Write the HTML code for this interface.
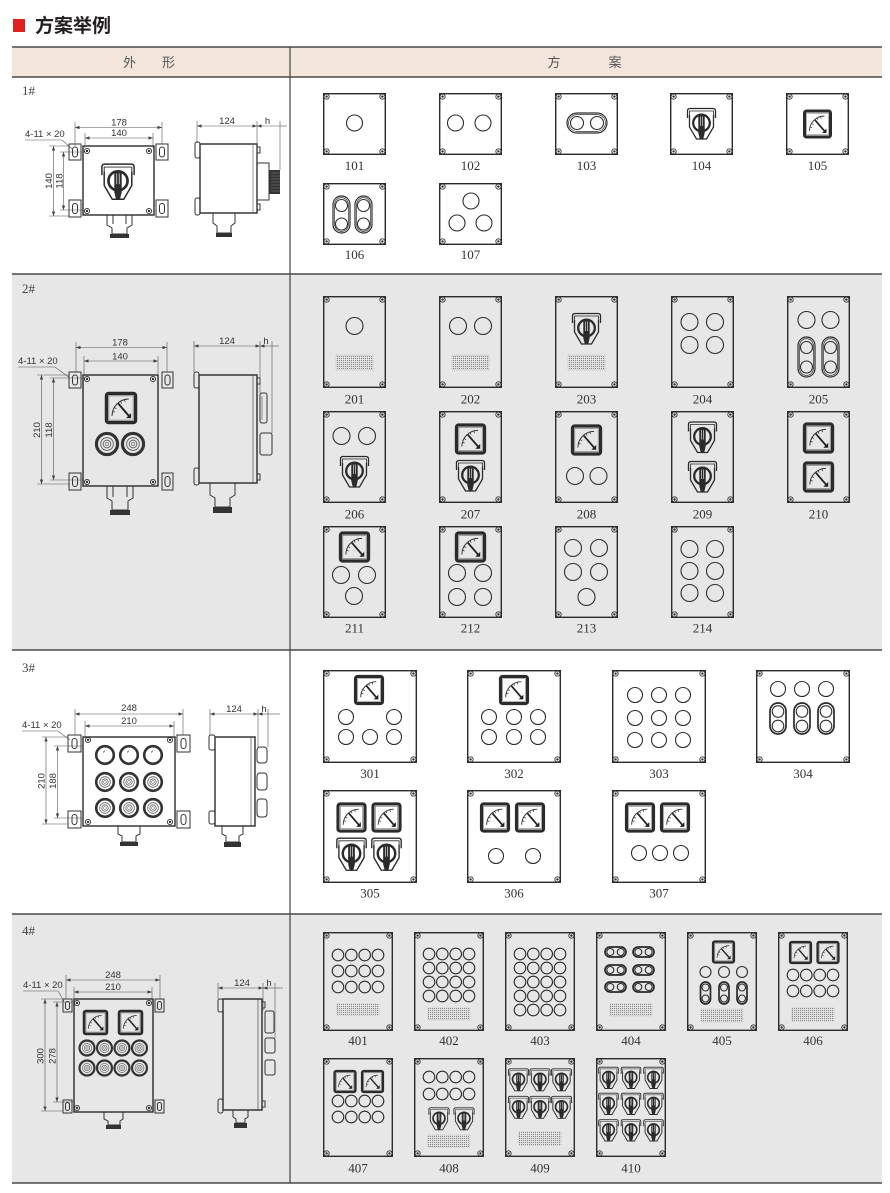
<!DOCTYPE html>
<html><head><meta charset="utf-8"><style>
html,body{margin:0;padding:0;background:#fff}
svg{display:block}
.o{fill:none;stroke:#2e2e2e;stroke-width:1.1}
.b{fill:none;stroke:#2a2a2a;stroke-width:1.4}
.k{fill:none;stroke:#333;stroke-width:1}
.d{fill:none;stroke:#555;stroke-width:0.6}
.t{font-family:"Liberation Serif",serif;font-size:13px;fill:#333;text-anchor:middle}
.n{font-family:"Liberation Sans",sans-serif;font-size:9.5px;fill:#333}
.m{text-anchor:middle}
.s{font-family:"Liberation Serif",serif;font-size:13px;fill:#444}
.h{font-family:"Liberation Sans","Noto Sans CJK SC",sans-serif;font-size:13px;fill:#555;text-anchor:middle}
.g{fill:url(#dt);stroke:#999;stroke-width:0.5;stroke-dasharray:1 1}
.pl{fill:none;stroke:#2e2e2e;stroke-width:1.2}
.pi{fill:none;stroke:#2e2e2e;stroke-width:0.7}
.pd{fill:none;stroke:#2a2a2a;stroke-width:1.7}
</style></head><body>
<svg width="890" height="1193" viewBox="0 0 890 1193" xmlns="http://www.w3.org/2000/svg">
<defs>
<marker id="ar" viewBox="0 0 8 6" refX="8" refY="3" markerWidth="5" markerHeight="3.4" markerUnits="userSpaceOnUse" orient="auto-start-reverse"><path d="M0,0L8,3L0,6z" fill="#444"/></marker>
<pattern id="dt" width="2" height="2" patternUnits="userSpaceOnUse"><rect width="1.1" height="1.1" fill="#888"/></pattern>
<g id="sc"><circle r="2.6" fill="none" stroke="#333" stroke-width="0.9"/><circle r="1.2" fill="#333"/></g>
<g id="sw" fill="none" stroke="#2b2b2b">
<path d="M-14,-6V-13Q-14,-15.5 -11.5,-15.5H11.5Q14,-15.5 14,-13V-6" stroke-width="1.3"/>
<path d="M-12,-7V-13H12V-7" stroke-width="0.8"/>
<path d="M-12,-9V3L-5,15H5L12,3V-9" stroke-width="1.3"/>
<circle cy="-1" r="8.3" stroke-width="2.3"/>
<path d="M-3.2,-9.5H3.2V9L1.6,15.5H-1.6L-3.2,9Z" fill="#2b2b2b" stroke="none"/>
<path d="M-1.1,-7.5V2M1.1,-7.5V2" stroke="#ddd" stroke-width="0.7"/>
</g>
<g id="mt">
<rect x="-13" y="-13" width="26" height="26" rx="2" fill="none" stroke="#2b2b2b" stroke-width="3"/>
<rect x="-10.8" y="-10.8" width="21.6" height="21.6" fill="none" stroke="#666" stroke-width="0.5"/>
<path d="M-8,7A15,15 0 0 1 7,-8" fill="none" stroke="#333" stroke-width="0.9"/>
<path d="M-7.5,3.1L-5.4,3.7M-6,-0.5L-4.1,0.6M-0.5,-6L0.6,-4.1M3.1,-7.5L3.7,-5.4" stroke="#333" stroke-width="0.7"/>
<path d="M-2.5,-4L7,7" stroke="#222" stroke-width="1.7"/>
<path d="M4.5,9L9,9L9,4.5Z" fill="#222"/>
</g>
<g id="bt"><circle r="8.8" fill="none" stroke="#333" stroke-width="2.6"/><circle r="5.3" fill="none" stroke="#666" stroke-width="0.8"/><circle r="3.2" fill="none" stroke="#666" stroke-width="0.8"/><circle r="1.4" fill="none" stroke="#666" stroke-width="0.6"/></g>
<g id="lp"><circle r="8.8" fill="none" stroke="#333" stroke-width="2.6"/><path d="M-1.5,-2.5l1,-1.8" stroke="#333" stroke-width="0.8"/></g>
<g id="p1"><rect class="b" x="0.7" y="0.7" width="61.6" height="60.6"/><use href="#sc" x="3.6" y="3.6"/><use href="#sc" x="59.4" y="3.6"/><use href="#sc" x="3.6" y="58.4"/><use href="#sc" x="59.4" y="58.4"/></g>
<g id="p2"><rect class="b" x="0.7" y="0.7" width="61.6" height="90.6"/><use href="#sc" x="3.6" y="3.6"/><use href="#sc" x="59.4" y="3.6"/><use href="#sc" x="3.6" y="88.4"/><use href="#sc" x="59.4" y="88.4"/></g>
<g id="p3"><rect class="b" x="0.7" y="0.7" width="92.6" height="91.6"/><use href="#sc" x="3.6" y="3.6"/><use href="#sc" x="90.4" y="3.6"/><use href="#sc" x="3.6" y="89.4"/><use href="#sc" x="90.4" y="89.4"/></g>
<g id="p4"><rect class="b" x="0.7" y="0.7" width="68.6" height="97.6"/><use href="#sc" x="3.6" y="3.6"/><use href="#sc" x="66.4" y="3.6"/><use href="#sc" x="3.6" y="95.4"/><use href="#sc" x="66.4" y="95.4"/></g>
</defs>

<!-- title -->
<rect x="13" y="19" width="12" height="13" fill="#e0201e"/>
<text x="35" y="32" font-family="'Liberation Sans','Noto Sans CJK SC',sans-serif" font-size="19" font-weight="bold" fill="#231f20">方案举例</text>

<!-- backgrounds -->
<rect x="12" y="47" width="870" height="30" fill="#f4e5dc"/>
<rect x="12" y="274" width="870" height="376" fill="#e7e7e7"/>
<rect x="12" y="914" width="870" height="269" fill="#e7e7e7"/>
<path d="M12,47H882M12,77H882M12,274H882M12,650H882M12,914H882M12,1183H882" stroke="#4a4a4a" stroke-width="1.5" fill="none"/>
<path d="M290,47V1183" stroke="#444" stroke-width="1.2"/>
<text class="h" x="129.5" y="67">外</text><text class="h" x="168.5" y="67">形</text>
<text class="h" x="554" y="67">方</text><text class="h" x="615" y="67">案</text>

<text class="s" x="22" y="95">1#</text>
<text class="s" x="22" y="293">2#</text>
<text class="s" x="22" y="672">3#</text>
<text class="s" x="22" y="935">4#</text>

<!-- ===== Section 1 left drawing ===== -->
<g>
<rect class="b" x="83" y="146" width="71" height="69" stroke-width="1.2"/>
<rect class="k" x="69" y="144" width="12" height="16"/><rect class="k" x="72.5" y="147" width="5" height="10" rx="2.5"/>
<rect class="k" x="69" y="200" width="12" height="17"/><rect class="k" x="72.5" y="203.5" width="5" height="10" rx="2.5"/>
<rect class="k" x="156" y="144" width="12" height="16"/><rect class="k" x="159.5" y="147" width="5" height="10" rx="2.5"/>
<rect class="k" x="156" y="200" width="12" height="17"/><rect class="k" x="159.5" y="203.5" width="5" height="10" rx="2.5"/>
<use href="#sc" x="87" y="151"/><use href="#sc" x="149" y="151"/><use href="#sc" x="87" y="211"/><use href="#sc" x="149" y="211"/>
<use href="#sw" transform="translate(118,182) scale(1.15)"/>
<path class="k" d="M107,215V225L112,228V234H127V228L132,225V215M113,215V224M126,215V224"/>
<rect x="110" y="234" width="19" height="4" fill="#333"/>
<path class="d" d="M75,127.5H162" marker-start="url(#ar)" marker-end="url(#ar)"/>
<path class="d" d="M75,122V146M162,122V144M85,133V148M153,133V148"/>
<path class="d" d="M85,138H153" marker-start="url(#ar)" marker-end="url(#ar)"/>
<text class="n m" x="119" y="125.5">178</text>
<text class="n m" x="119" y="136">140</text>
<text class="n" x="25" y="137">4-11 × 20</text>
<path class="d" d="M25,140H62L72,149"/>
<path class="d" d="M53.5,146V216" marker-start="url(#ar)" marker-end="url(#ar)"/>
<path class="d" d="M63.5,152V210" marker-start="url(#ar)" marker-end="url(#ar)"/>
<path class="d" d="M49,146H70M49,216H70M60,152H84M60,210H84"/>
<text class="n m" transform="translate(52,181) rotate(-90)">140</text>
<text class="n m" transform="translate(62.5,181) rotate(-90)">118</text>
<!-- side -->
<rect class="b" x="200" y="144" width="57" height="69" stroke-width="1.2"/>
<path class="d" d="M253,144V213" stroke="#333"/>
<rect class="k" x="195" y="142" width="5" height="16" rx="2"/><rect class="k" x="195" y="198" width="5" height="17" rx="2"/>
<rect class="k" x="257" y="147" width="3" height="6"/><rect class="k" x="257" y="204" width="3" height="6"/>
<rect class="k" x="257" y="163" width="12" height="37"/>
<rect x="269" y="170" width="11" height="24" fill="#333"/>
<path d="M271,173H280M271,176H280M271,179H280M271,182H280M271,185H280M271,188H280M271,191H280" stroke="#888" stroke-width="0.6"/>
<path class="k" d="M213,213V223L217,226V233H231V226L235,223V213"/>
<rect x="216" y="233" width="16" height="4" fill="#333"/>
<path class="d" d="M197,126H257" marker-start="url(#ar)" marker-end="url(#ar)"/>
<path class="d" d="M280,126H257" marker-end="url(#ar)"/><path class="d" d="M280,126H287"/>
<path class="d" d="M197,121V143M257,121V163M280,121V170"/>
<text class="n m" x="227" y="124">124</text>
<text class="n m" x="267.5" y="124">h</text>
</g>

<!-- ===== Section 1 panels ===== -->
<g transform="translate(323,93)"><use href="#p1"/><circle class="o" cx="31.5" cy="30" r="8"/></g>
<g transform="translate(439,93)"><use href="#p1"/><circle class="o" cx="16.5" cy="30" r="8"/><circle class="o" cx="44" cy="30" r="8"/></g>
<g transform="translate(555,93)"><use href="#p1"/><rect class="pl" x="12" y="20" width="40" height="20" rx="10"/><rect class="pi" x="13.6" y="21.6" width="36.8" height="16.8" rx="8.4"/><circle class="o" cx="22" cy="30" r="6.5"/><circle class="o" cx="42" cy="30" r="6.5"/></g>
<g transform="translate(670,93)"><use href="#p1"/><use href="#sw" transform="translate(31.5,31)"/></g>
<g transform="translate(786,93)"><use href="#p1"/><use href="#mt" transform="translate(31.5,31)"/></g>
<g transform="translate(323,183)"><use href="#p1"/><rect class="pl" x="10" y="13" width="17" height="37" rx="8.5"/><rect class="pi" x="11.6" y="14.6" width="13.8" height="33.8" rx="6.9"/><rect class="pl" x="32" y="13" width="17" height="37" rx="8.5"/><rect class="pi" x="33.6" y="14.6" width="13.8" height="33.8" rx="6.9"/><circle class="o" cx="18.5" cy="22.5" r="6"/><circle class="o" cx="18.5" cy="41" r="6"/><circle class="o" cx="40.5" cy="22.5" r="6"/><circle class="o" cx="40.5" cy="41" r="6"/></g>
<g transform="translate(439,183)"><use href="#p1"/><circle class="o" cx="32" cy="18" r="8"/><circle class="o" cx="18" cy="40" r="8"/><circle class="o" cx="45" cy="40" r="8"/></g>
<text class="t" x="354.5" y="170">101</text><text class="t" x="470.5" y="170">102</text><text class="t" x="586.5" y="170">103</text><text class="t" x="701.5" y="170">104</text><text class="t" x="817.5" y="170">105</text>
<text class="t" x="354.5" y="259">106</text><text class="t" x="470.5" y="259">107</text>

<!-- ===== Section 2 left drawing ===== -->
<g>
<rect class="b" x="83" y="375" width="75" height="111" stroke-width="1.2"/>
<rect class="k" x="69" y="372" width="12" height="16"/><rect class="k" x="72.5" y="375" width="5" height="10" rx="2.5"/>
<rect class="k" x="69" y="473" width="12" height="17"/><rect class="k" x="72.5" y="476.5" width="5" height="10" rx="2.5"/>
<rect class="k" x="162" y="372" width="11" height="16"/><rect class="k" x="165" y="375" width="5" height="10" rx="2.5"/>
<rect class="k" x="162" y="473" width="11" height="17"/><rect class="k" x="165" y="476.5" width="5" height="10" rx="2.5"/>
<use href="#sc" x="87" y="379"/><use href="#sc" x="153" y="379"/><use href="#sc" x="87" y="482"/><use href="#sc" x="153" y="482"/>
<use href="#mt" transform="translate(121,408) scale(1.12)"/>
<use href="#bt" transform="translate(107,444) scale(1.2)"/><use href="#bt" transform="translate(133,444) scale(1.2)"/>
<path class="k" d="M107,486V498L112,501V510H128V501L133,498V486M113,486V497M127,486V497"/>
<rect x="110" y="510" width="20" height="5" fill="#333"/>
<path class="d" d="M76,347.5H167" marker-start="url(#ar)" marker-end="url(#ar)"/>
<path class="d" d="M84,361H158" marker-start="url(#ar)" marker-end="url(#ar)"/>
<path class="d" d="M76,342V372M167,342V372M84,356V375M158,356V375"/>
<text class="n m" x="120" y="345.5">178</text>
<text class="n m" x="120" y="359.5">140</text>
<text class="n" x="18" y="364">4-11 × 20</text>
<path class="d" d="M18,367H55L70,378"/>
<path class="d" d="M41.5,375V484" marker-start="url(#ar)" marker-end="url(#ar)"/>
<path class="d" d="M53.5,378V480" marker-start="url(#ar)" marker-end="url(#ar)"/>
<path class="d" d="M37,375H70M37,484H70M50,378H84M50,480H84"/>
<text class="n m" transform="translate(40,430) rotate(-90)">210</text>
<text class="n m" transform="translate(52,430) rotate(-90)">118</text>
<!-- side -->
<rect class="b" x="199" y="375" width="58" height="108" stroke-width="1.2"/>
<path d="M253,375V483" stroke="#333" stroke-width="0.6"/>
<rect class="k" x="194" y="372" width="5" height="16" rx="2"/><rect class="k" x="194" y="468" width="5" height="17" rx="2"/>
<rect class="k" x="257" y="378" width="3" height="6"/><rect class="k" x="257" y="474" width="3" height="6"/>
<rect class="k" x="260" y="393" width="7" height="30" rx="2"/><path d="M262,396V420" stroke="#555" stroke-width="0.6"/>
<rect class="k" x="260" y="433" width="12" height="22" rx="2"/>
<path class="k" d="M210,483V495L215,498V507H230V498L235,495V483"/>
<rect x="213" y="507" width="19" height="6" fill="#333"/>
<path class="d" d="M194,346H260" marker-start="url(#ar)" marker-end="url(#ar)"/>
<path class="d" d="M272,346H260" marker-end="url(#ar)"/><path class="d" d="M272,346H279"/>
<path class="d" d="M194,341V372M260,341V393M272,341V433"/>
<text class="n m" x="227" y="344">124</text>
<text class="n m" x="266" y="344">h</text>
</g>

<!-- ===== Section 2 panels ===== -->
<g transform="translate(323,296)"><use href="#p2"/><circle class="o" cx="31.5" cy="30" r="8.5"/><rect class="g" x="13" y="59" width="37" height="15"/></g>
<g transform="translate(439,296)"><use href="#p2"/><circle class="o" cx="19" cy="30" r="8.5"/><circle class="o" cx="44" cy="30" r="8.5"/><rect class="g" x="13" y="59" width="37" height="15"/></g>
<g transform="translate(555,296)"><use href="#p2"/><use href="#sw" transform="translate(31.5,33)"/><rect class="g" x="13" y="59" width="37" height="15"/></g>
<g transform="translate(671,296)"><use href="#p2"/><circle class="o" cx="18.5" cy="26" r="8.5"/><circle class="o" cx="44" cy="26" r="8.5"/><circle class="o" cx="18.5" cy="49" r="8.5"/><circle class="o" cx="44" cy="49" r="8.5"/></g>
<g transform="translate(787,296)"><use href="#p2"/><circle class="o" cx="19.5" cy="24" r="8.5"/><circle class="o" cx="43.5" cy="24" r="8.5"/><rect class="pl" x="11" y="41" width="17" height="40" rx="8.5"/><rect class="pi" x="12.6" y="42.6" width="13.8" height="36.8" rx="6.9"/><rect class="pl" x="35" y="41" width="17" height="40" rx="8.5"/><rect class="pi" x="36.6" y="42.6" width="13.8" height="36.8" rx="6.9"/><circle class="o" cx="19.5" cy="51.5" r="6"/><circle class="o" cx="19.5" cy="71" r="6"/><circle class="o" cx="43.5" cy="51.5" r="6"/><circle class="o" cx="43.5" cy="71" r="6"/></g>
<g transform="translate(323,411)"><use href="#p2"/><circle class="o" cx="18.5" cy="25" r="8.5"/><circle class="o" cx="44" cy="25" r="8.5"/><use href="#sw" transform="translate(31.5,61)"/></g>
<g transform="translate(439,411)"><use href="#p2"/><use href="#mt" transform="translate(31.5,28) scale(1.08)"/><use href="#sw" transform="translate(31.5,65)"/></g>
<g transform="translate(555,411)"><use href="#p2"/><use href="#mt" transform="translate(31.5,29) scale(1.08)"/><circle class="o" cx="20" cy="65" r="8.5"/><circle class="o" cx="43.5" cy="65" r="8.5"/></g>
<g transform="translate(671,411)"><use href="#p2"/><use href="#sw" transform="translate(31.5,26.5)"/><use href="#sw" transform="translate(31.5,66)"/></g>
<g transform="translate(787,411)"><use href="#p2"/><use href="#mt" transform="translate(31.5,27) scale(1.08)"/><use href="#mt" transform="translate(31.5,66) scale(1.08)"/></g>
<g transform="translate(323,526)"><use href="#p2"/><use href="#mt" transform="translate(31.5,21) scale(1.08)"/><circle class="o" cx="18" cy="49" r="8.5"/><circle class="o" cx="44" cy="49" r="8.5"/><circle class="o" cx="31" cy="70" r="8.5"/></g>
<g transform="translate(439,526)"><use href="#p2"/><use href="#mt" transform="translate(31.5,21) scale(1.08)"/><circle class="o" cx="18" cy="47" r="8.5"/><circle class="o" cx="44" cy="47" r="8.5"/><circle class="o" cx="18" cy="71" r="8.5"/><circle class="o" cx="44" cy="71" r="8.5"/></g>
<g transform="translate(555,526)"><use href="#p2"/><circle class="o" cx="18" cy="22" r="8.5"/><circle class="o" cx="44" cy="22" r="8.5"/><circle class="o" cx="18" cy="46" r="8.5"/><circle class="o" cx="44" cy="46" r="8.5"/><circle class="o" cx="31.5" cy="71" r="8.5"/></g>
<g transform="translate(671,526)"><use href="#p2"/><circle class="o" cx="18.5" cy="23" r="8.5"/><circle class="o" cx="44" cy="23" r="8.5"/><circle class="o" cx="18.5" cy="45" r="8.5"/><circle class="o" cx="44" cy="45" r="8.5"/><circle class="o" cx="18.5" cy="67" r="8.5"/><circle class="o" cx="44" cy="67" r="8.5"/></g>
<text class="t" x="354.5" y="403.5">201</text><text class="t" x="470.5" y="403.5">202</text><text class="t" x="586.5" y="403.5">203</text><text class="t" x="702.5" y="403.5">204</text><text class="t" x="818.5" y="403.5">205</text>
<text class="t" x="354.5" y="518.5">206</text><text class="t" x="470.5" y="518.5">207</text><text class="t" x="586.5" y="518.5">208</text><text class="t" x="702.5" y="518.5">209</text><text class="t" x="818.5" y="518.5">210</text>
<text class="t" x="354.5" y="632.5">211</text><text class="t" x="470.5" y="632.5">212</text><text class="t" x="586.5" y="632.5">213</text><text class="t" x="702.5" y="632.5">214</text>

<!-- ===== Section 3 left drawing ===== -->
<g>
<rect class="b" x="83" y="737" width="92" height="89" stroke-width="1.2"/>
<rect class="k" x="68" y="735" width="13" height="17"/><rect class="k" x="72" y="738.5" width="5" height="10" rx="2.5"/>
<rect class="k" x="68" y="811" width="13" height="17"/><rect class="k" x="72" y="814.5" width="5" height="10" rx="2.5"/>
<rect class="k" x="177" y="735" width="13" height="17"/><rect class="k" x="181" y="738.5" width="5" height="10" rx="2.5"/>
<rect class="k" x="177" y="811" width="13" height="17"/><rect class="k" x="181" y="814.5" width="5" height="10" rx="2.5"/>
<use href="#sc" x="88" y="740"/><use href="#sc" x="170" y="740"/><use href="#sc" x="88" y="822"/><use href="#sc" x="170" y="822"/>
<use href="#lp" x="105" y="755"/><use href="#lp" x="129" y="755"/><use href="#lp" x="153" y="755"/>
<use href="#bt" x="105" y="782"/><use href="#bt" x="129" y="782"/><use href="#bt" x="153" y="782"/>
<use href="#bt" x="105" y="808"/><use href="#bt" x="129" y="808"/><use href="#bt" x="153" y="808"/>
<path class="k" d="M118,826V834L122,836V842H136V836L140,834V826"/>
<rect x="120" y="842" width="18" height="4" fill="#333"/>
<path class="d" d="M75,714H183" marker-start="url(#ar)" marker-end="url(#ar)"/>
<path class="d" d="M85,726H174" marker-start="url(#ar)" marker-end="url(#ar)"/>
<path class="d" d="M75,709V735M183,709V735M85,721V737M174,721V737"/>
<text class="n m" x="129" y="711">248</text>
<text class="n m" x="129" y="724">210</text>
<text class="n" x="22" y="728">4-11 × 20</text>
<path class="d" d="M22,731H58L70,740"/>
<path class="d" d="M46,737V824" marker-start="url(#ar)" marker-end="url(#ar)"/>
<path class="d" d="M57.5,746V818" marker-start="url(#ar)" marker-end="url(#ar)"/>
<path class="d" d="M42,737H68M42,824H68M54,746H83M54,818H83"/>
<text class="n m" transform="translate(44.5,781) rotate(-90)">210</text>
<text class="n m" transform="translate(56,781) rotate(-90)">188</text>
<!-- side -->
<rect class="b" x="215" y="737" width="40" height="89" stroke-width="1.2"/>
<path d="M251,737V826" stroke="#333" stroke-width="0.6"/>
<rect class="k" x="209" y="735" width="6" height="15" rx="2"/><rect class="k" x="209" y="811" width="6" height="13" rx="2"/>
<rect class="k" x="257" y="747" width="10" height="16" rx="3"/><rect class="k" x="257" y="773" width="10" height="17" rx="3"/><rect class="k" x="257" y="799" width="10" height="18" rx="3"/>
<path class="k" d="M222,826V834L226,836V842H239V836L243,834V826"/>
<rect x="224" y="842" width="17" height="5" fill="#333"/>
<path class="d" d="M210,714H258" marker-start="url(#ar)" marker-end="url(#ar)"/>
<path class="d" d="M268,714H258" marker-end="url(#ar)"/><path class="d" d="M268,714H280"/>
<path class="d" d="M210,709V735M258,709V747M268,709V747"/>
<text class="n m" x="234" y="712">124</text>
<text class="n m" x="264" y="712">h</text>
</g>

<!-- ===== Section 3 panels ===== -->
<g transform="translate(323,670)"><use href="#p3"/><use href="#mt" transform="translate(46,20) scale(1.04)"/><circle class="o" cx="23" cy="47" r="7.5"/><circle class="o" cx="71" cy="47" r="7.5"/><circle class="o" cx="23" cy="67" r="7.5"/><circle class="o" cx="47" cy="67" r="7.5"/><circle class="o" cx="71" cy="67" r="7.5"/></g>
<g transform="translate(467,670)"><use href="#p3"/><use href="#mt" transform="translate(47,20) scale(1.04)"/><circle class="o" cx="22" cy="47" r="7.5"/><circle class="o" cx="47" cy="47" r="7.5"/><circle class="o" cx="71" cy="47" r="7.5"/><circle class="o" cx="22" cy="67" r="7.5"/><circle class="o" cx="47" cy="67" r="7.5"/><circle class="o" cx="71" cy="67" r="7.5"/></g>
<g transform="translate(612,670)"><use href="#p3"/><circle class="o" cx="23" cy="25" r="7.5"/><circle class="o" cx="47" cy="25" r="7.5"/><circle class="o" cx="71" cy="25" r="7.5"/><circle class="o" cx="23" cy="48" r="7.5"/><circle class="o" cx="47" cy="48" r="7.5"/><circle class="o" cx="71" cy="48" r="7.5"/><circle class="o" cx="23" cy="70" r="7.5"/><circle class="o" cx="47" cy="70" r="7.5"/><circle class="o" cx="71" cy="70" r="7.5"/></g>
<g transform="translate(756,670)"><use href="#p3"/><circle class="o" cx="22" cy="19" r="7.5"/><circle class="o" cx="46" cy="19" r="7.5"/><circle class="o" cx="70" cy="19" r="7.5"/>
<rect class="pd" x="14" y="33" width="16" height="31" rx="8"/><rect class="pd" x="38" y="33" width="16" height="31" rx="8"/><rect class="pd" x="62" y="33" width="16" height="31" rx="8"/>
<circle class="o" cx="22" cy="41.5" r="5.8"/><circle class="o" cx="22" cy="56" r="5.8"/><circle class="o" cx="46" cy="41.5" r="5.8"/><circle class="o" cx="46" cy="56" r="5.8"/><circle class="o" cx="70" cy="41.5" r="5.8"/><circle class="o" cx="70" cy="56" r="5.8"/></g>
<g transform="translate(323,790)"><use href="#p3"/><use href="#mt" transform="translate(28.5,27.5) scale(1.04)"/><use href="#mt" transform="translate(63.5,27.5) scale(1.04)"/><use href="#sw" transform="translate(28.5,64.5) scale(1.05)"/><use href="#sw" transform="translate(63.5,64.5) scale(1.05)"/></g>
<g transform="translate(467,790)"><use href="#p3"/><use href="#mt" transform="translate(28,27.5) scale(1.04)"/><use href="#mt" transform="translate(63,27.5) scale(1.04)"/><circle class="o" cx="29" cy="66" r="7.5"/><circle class="o" cx="66" cy="66" r="7.5"/></g>
<g transform="translate(612,790)"><use href="#p3"/><use href="#mt" transform="translate(28,27.5) scale(1.04)"/><use href="#mt" transform="translate(63,27.5) scale(1.04)"/><circle class="o" cx="27" cy="63" r="7.5"/><circle class="o" cx="48" cy="63" r="7.5"/><circle class="o" cx="69" cy="63" r="7.5"/></g>
<text class="t" x="370" y="778">301</text><text class="t" x="514" y="778">302</text><text class="t" x="659" y="778">303</text><text class="t" x="803" y="778">304</text>
<text class="t" x="370" y="897.5">305</text><text class="t" x="514" y="897.5">306</text><text class="t" x="659" y="897.5">307</text>

<!-- ===== Section 4 left drawing ===== -->
<g>
<rect class="b" x="74" y="999" width="79" height="113" stroke-width="1.2"/>
<rect class="k" x="63" y="999" width="9" height="13"/><rect class="k" x="65.5" y="1001.5" width="4" height="8" rx="2"/>
<rect class="k" x="63" y="1100" width="9" height="13"/><rect class="k" x="65.5" y="1102.5" width="4" height="8" rx="2"/>
<rect class="k" x="155" y="999" width="9" height="13"/><rect class="k" x="157.5" y="1001.5" width="4" height="8" rx="2"/>
<rect class="k" x="155" y="1100" width="9" height="13"/><rect class="k" x="157.5" y="1102.5" width="4" height="8" rx="2"/>
<use href="#sc" x="77" y="1003"/><use href="#sc" x="149" y="1003"/><use href="#sc" x="77" y="1108"/><use href="#sc" x="149" y="1108"/>
<use href="#mt" transform="translate(95.5,1022.5) scale(0.88)"/><use href="#mt" transform="translate(130.5,1022.5) scale(0.88)"/>
<use href="#bt" transform="translate(87,1048) scale(0.85)"/><use href="#bt" transform="translate(104.5,1048) scale(0.85)"/><use href="#bt" transform="translate(122,1048) scale(0.85)"/><use href="#bt" transform="translate(139.5,1048) scale(0.85)"/>
<use href="#bt" transform="translate(87,1068) scale(0.85)"/><use href="#bt" transform="translate(104.5,1068) scale(0.85)"/><use href="#bt" transform="translate(122,1068) scale(0.85)"/><use href="#bt" transform="translate(139.5,1068) scale(0.85)"/>
<path class="k" d="M104,1112V1119L108,1121V1125H120V1121L123,1119V1112"/>
<rect x="106" y="1125" width="15" height="4" fill="#333"/>
<path class="d" d="M66,980H160" marker-start="url(#ar)" marker-end="url(#ar)"/>
<path class="d" d="M74,992H152" marker-start="url(#ar)" marker-end="url(#ar)"/>
<path class="d" d="M66,975V999M160,975V999M74,987V999M152,987V999"/>
<text class="n m" x="113" y="978">248</text>
<text class="n m" x="113" y="990">210</text>
<text class="n" x="23" y="988">4-11 × 20</text>
<path class="d" d="M23,991H58L64,1001"/>
<path class="d" d="M45,999V1111" marker-start="url(#ar)" marker-end="url(#ar)"/>
<path class="d" d="M57,1002V1102" marker-start="url(#ar)" marker-end="url(#ar)"/>
<path class="d" d="M41,999H63M41,1111H63M53,1002H74M53,1102H74"/>
<text class="n m" transform="translate(43.5,1056) rotate(-90)">300</text>
<text class="n m" transform="translate(55.5,1056) rotate(-90)">278</text>
<!-- side -->
<rect class="b" x="223" y="999" width="39" height="111" stroke-width="1.2"/>
<path d="M258,999V1110" stroke="#333" stroke-width="0.6"/>
<rect class="k" x="218" y="999" width="5" height="13" rx="2"/><rect class="k" x="218" y="1099" width="5" height="14" rx="2"/>
<rect class="k" x="262" y="1002" width="3" height="6"/><rect class="k" x="262" y="1101" width="3" height="6"/>
<rect class="k" x="265" y="1011" width="9" height="22" rx="2"/><rect class="k" x="265" y="1038" width="10" height="15" rx="2"/><rect class="k" x="265" y="1060" width="10" height="15" rx="2"/>
<path class="k" d="M233,1110V1117L236,1119V1123H245V1119L248,1117V1110"/>
<rect x="234" y="1123" width="13" height="5" fill="#333"/>
<path class="d" d="M218,988H263" marker-start="url(#ar)" marker-end="url(#ar)"/>
<path class="d" d="M275,988H263" marker-end="url(#ar)"/><path class="d" d="M275,988H283"/>
<path class="d" d="M218,983V999M263,983V1011M275,983V1038"/>
<text class="n m" x="242" y="986">124</text>
<text class="n m" x="269" y="986">h</text>
</g>

<!-- ===== Section 4 panels ===== -->
<g transform="translate(323,932)"><use href="#p4"/>
<g class="o"><circle cx="15" cy="23" r="5.8"/><circle cx="28.3" cy="23" r="5.8"/><circle cx="41.7" cy="23" r="5.8"/><circle cx="55" cy="23" r="5.8"/><circle cx="15" cy="39" r="5.8"/><circle cx="28.3" cy="39" r="5.8"/><circle cx="41.7" cy="39" r="5.8"/><circle cx="55" cy="39" r="5.8"/><circle cx="15" cy="55" r="5.8"/><circle cx="28.3" cy="55" r="5.8"/><circle cx="41.7" cy="55" r="5.8"/><circle cx="55" cy="55" r="5.8"/></g>
<rect class="g" x="14" y="72" width="42" height="11"/></g>
<g transform="translate(414,932)"><use href="#p4"/>
<g class="o"><circle cx="15" cy="22" r="5.8"/><circle cx="28.3" cy="22" r="5.8"/><circle cx="41.7" cy="22" r="5.8"/><circle cx="55" cy="22" r="5.8"/><circle cx="15" cy="36" r="5.8"/><circle cx="28.3" cy="36" r="5.8"/><circle cx="41.7" cy="36" r="5.8"/><circle cx="55" cy="36" r="5.8"/><circle cx="15" cy="50" r="5.8"/><circle cx="28.3" cy="50" r="5.8"/><circle cx="41.7" cy="50" r="5.8"/><circle cx="55" cy="50" r="5.8"/><circle cx="15" cy="64" r="5.8"/><circle cx="28.3" cy="64" r="5.8"/><circle cx="41.7" cy="64" r="5.8"/><circle cx="55" cy="64" r="5.8"/></g>
<rect class="g" x="14" y="76" width="42" height="12"/></g>
<g transform="translate(505,932)"><use href="#p4"/>
<g class="o"><circle cx="15" cy="22" r="5.8"/><circle cx="28.3" cy="22" r="5.8"/><circle cx="41.7" cy="22" r="5.8"/><circle cx="55" cy="22" r="5.8"/><circle cx="15" cy="36" r="5.8"/><circle cx="28.3" cy="36" r="5.8"/><circle cx="41.7" cy="36" r="5.8"/><circle cx="55" cy="36" r="5.8"/><circle cx="15" cy="50" r="5.8"/><circle cx="28.3" cy="50" r="5.8"/><circle cx="41.7" cy="50" r="5.8"/><circle cx="55" cy="50" r="5.8"/><circle cx="15" cy="64" r="5.8"/><circle cx="28.3" cy="64" r="5.8"/><circle cx="41.7" cy="64" r="5.8"/><circle cx="55" cy="64" r="5.8"/><circle cx="15" cy="78" r="5.8"/><circle cx="28.3" cy="78" r="5.8"/><circle cx="41.7" cy="78" r="5.8"/><circle cx="55" cy="78" r="5.8"/></g></g>
<g transform="translate(596,932)"><use href="#p4"/>
<rect class="pd" x="9" y="15" width="21" height="10" rx="5"/><rect class="pd" x="37" y="15" width="21" height="10" rx="5"/>
<rect class="pd" x="9" y="33" width="21" height="10" rx="5"/><rect class="pd" x="37" y="33" width="21" height="10" rx="5"/>
<rect class="pd" x="9" y="50" width="21" height="10" rx="5"/><rect class="pd" x="37" y="50" width="21" height="10" rx="5"/>
<g class="o"><circle cx="14.3" cy="20" r="3.5"/><circle cx="24.7" cy="20" r="3.5"/><circle cx="42.3" cy="20" r="3.5"/><circle cx="52.7" cy="20" r="3.5"/><circle cx="14.3" cy="38" r="3.5"/><circle cx="24.7" cy="38" r="3.5"/><circle cx="42.3" cy="38" r="3.5"/><circle cx="52.7" cy="38" r="3.5"/><circle cx="14.3" cy="55" r="3.5"/><circle cx="24.7" cy="55" r="3.5"/><circle cx="42.3" cy="55" r="3.5"/><circle cx="52.7" cy="55" r="3.5"/></g>
<rect class="g" x="14" y="72" width="42" height="12"/></g>
<g transform="translate(687,932)"><use href="#p4"/><use href="#mt" transform="translate(36.5,20) scale(0.8)"/>
<g class="o"><circle cx="18.5" cy="40" r="5.5"/><circle cx="37" cy="40" r="5.5"/><circle cx="55" cy="40" r="5.5"/></g>
<rect class="pd" x="13.5" y="50" width="10" height="22" rx="5"/><rect class="pd" x="32" y="50" width="10" height="22" rx="5"/><rect class="pd" x="50" y="50" width="10" height="22" rx="5"/>
<g class="o"><circle cx="18.5" cy="55.5" r="3.5"/><circle cx="18.5" cy="66.5" r="3.5"/><circle cx="37" cy="55.5" r="3.5"/><circle cx="37" cy="66.5" r="3.5"/><circle cx="55" cy="55.5" r="3.5"/><circle cx="55" cy="66.5" r="3.5"/></g>
<rect class="g" x="14" y="77" width="42" height="13"/></g>
<g transform="translate(778,932)"><use href="#p4"/><use href="#mt" transform="translate(22.5,20.5) scale(0.8)"/><use href="#mt" transform="translate(50,20.5) scale(0.8)"/>
<g class="o"><circle cx="15" cy="43" r="5.8"/><circle cx="28.3" cy="43" r="5.8"/><circle cx="41.7" cy="43" r="5.8"/><circle cx="55" cy="43" r="5.8"/><circle cx="15" cy="59" r="5.8"/><circle cx="28.3" cy="59" r="5.8"/><circle cx="41.7" cy="59" r="5.8"/><circle cx="55" cy="59" r="5.8"/></g>
<rect class="g" x="14" y="76" width="42" height="13"/></g>
<g transform="translate(323,1058)"><use href="#p4"/><use href="#mt" transform="translate(22,23.5) scale(0.8)"/><use href="#mt" transform="translate(49.5,23.5) scale(0.8)"/>
<g class="o"><circle cx="15" cy="43" r="5.8"/><circle cx="28.3" cy="43" r="5.8"/><circle cx="41.7" cy="43" r="5.8"/><circle cx="55" cy="43" r="5.8"/><circle cx="15" cy="59" r="5.8"/><circle cx="28.3" cy="59" r="5.8"/><circle cx="41.7" cy="59" r="5.8"/><circle cx="55" cy="59" r="5.8"/></g></g>
<g transform="translate(414,1058)"><use href="#p4"/>
<g class="o"><circle cx="15" cy="19" r="5.8"/><circle cx="28.3" cy="19" r="5.8"/><circle cx="41.7" cy="19" r="5.8"/><circle cx="55" cy="19" r="5.8"/><circle cx="15" cy="36" r="5.8"/><circle cx="28.3" cy="36" r="5.8"/><circle cx="41.7" cy="36" r="5.8"/><circle cx="55" cy="36" r="5.8"/></g>
<use href="#sw" transform="translate(25,61) scale(0.72)"/><use href="#sw" transform="translate(50,61) scale(0.72)"/>
<rect class="g" x="14" y="77" width="42" height="12"/></g>
<g transform="translate(505,1058)"><use href="#p4"/>
<use href="#sw" transform="translate(13.5,22) scale(0.72)"/><use href="#sw" transform="translate(35,22) scale(0.72)"/><use href="#sw" transform="translate(56.5,22) scale(0.72)"/>
<use href="#sw" transform="translate(13.5,49.5) scale(0.72)"/><use href="#sw" transform="translate(35,49.5) scale(0.72)"/><use href="#sw" transform="translate(56.5,49.5) scale(0.72)"/>
<rect class="g" x="14" y="74" width="42" height="13"/></g>
<g transform="translate(596,1058)"><use href="#p4"/>
<use href="#sw" transform="translate(12.5,20) scale(0.7)"/><use href="#sw" transform="translate(35,20) scale(0.7)"/><use href="#sw" transform="translate(57.5,20) scale(0.7)"/>
<use href="#sw" transform="translate(12.5,46) scale(0.7)"/><use href="#sw" transform="translate(35,46) scale(0.7)"/><use href="#sw" transform="translate(57.5,46) scale(0.7)"/>
<use href="#sw" transform="translate(12.5,72.5) scale(0.7)"/><use href="#sw" transform="translate(35,72.5) scale(0.7)"/><use href="#sw" transform="translate(57.5,72.5) scale(0.7)"/></g>
<text class="t" x="358" y="1045">401</text><text class="t" x="449" y="1045">402</text><text class="t" x="540" y="1045">403</text><text class="t" x="631" y="1045">404</text><text class="t" x="722" y="1045">405</text><text class="t" x="813" y="1045">406</text>
<text class="t" x="358" y="1172.5">407</text><text class="t" x="449" y="1172.5">408</text><text class="t" x="540" y="1172.5">409</text><text class="t" x="631" y="1172.5">410</text>
</svg>
</body></html>
